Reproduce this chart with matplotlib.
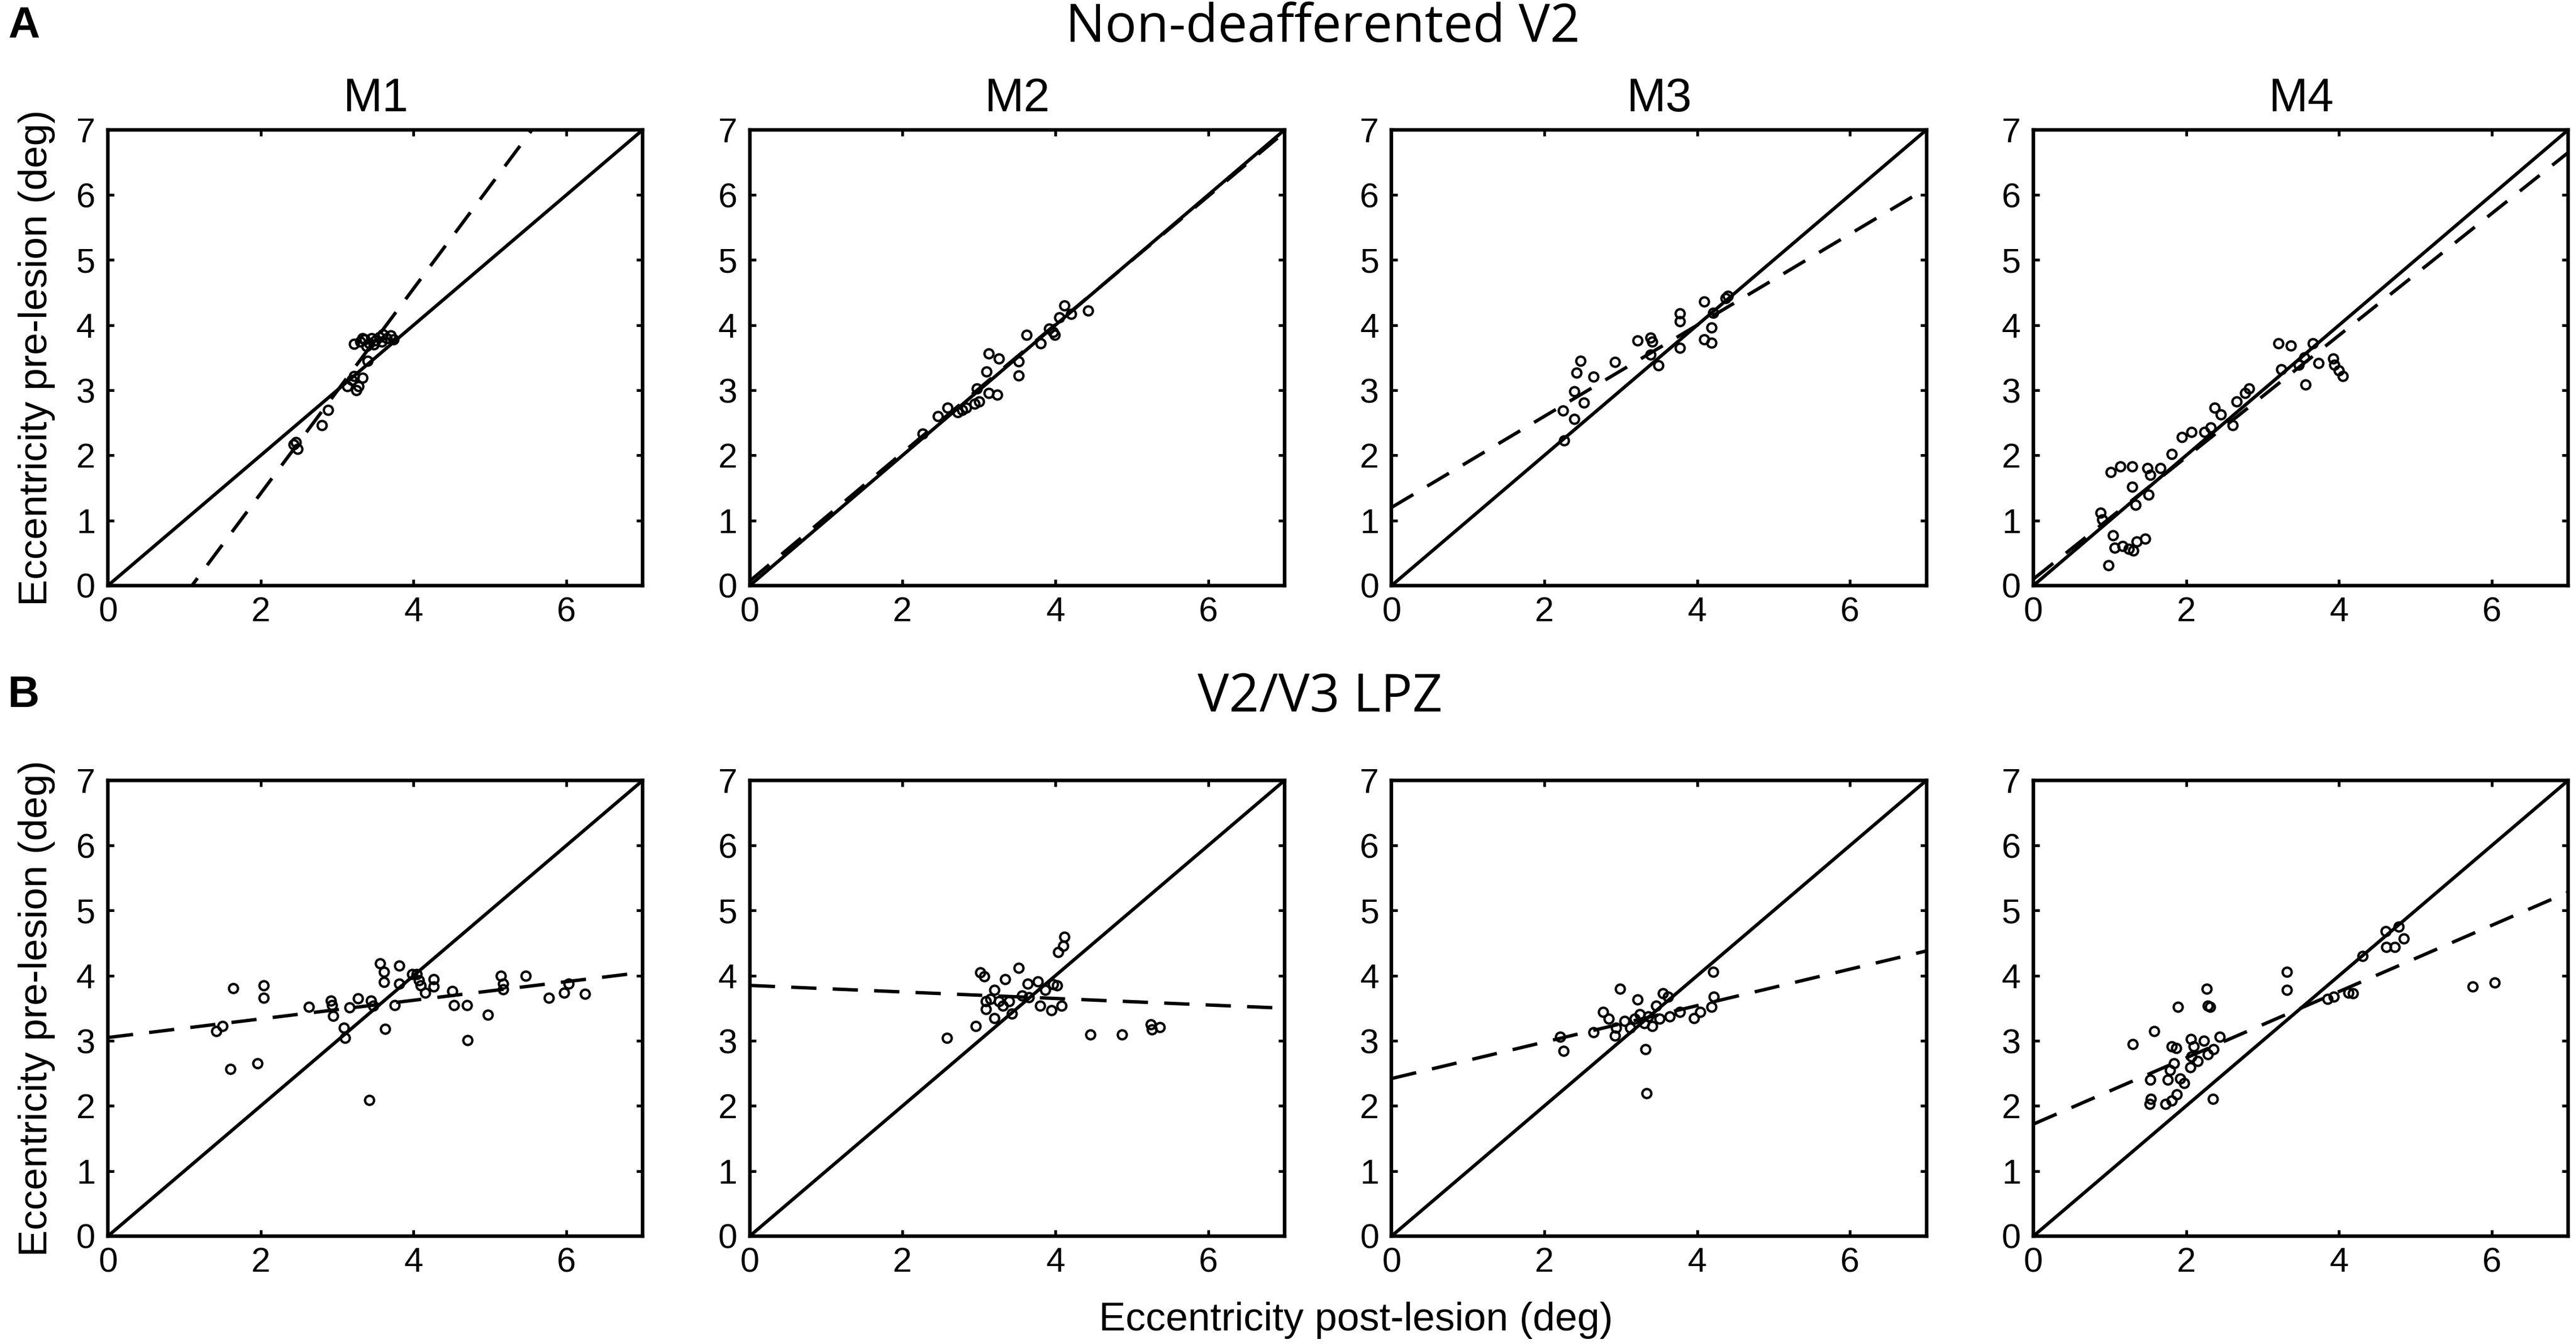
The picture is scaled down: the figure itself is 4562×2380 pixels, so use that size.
import matplotlib
matplotlib.use("Agg")
import matplotlib.pyplot as plt
import numpy as np

# ---- data (deg) ----
row_titles = ["Non-deafferented V2", "V2/V3 LPZ"]
col_titles = ["M1", "M2", "M3", "M4"]

# row A: non-deafferented V2
a_m1_post = [3.22, 3.30, 3.36, 3.42, 3.45, 3.50, 3.55, 3.60, 3.65, 3.70, 3.74, 3.38, 3.48, 3.58, 3.33,
             3.40, 3.33, 3.22, 3.28, 3.13, 3.19, 3.25, 2.88, 2.80, 2.43, 2.48, 2.46]
a_m1_pre = [3.71, 3.75, 3.78, 3.72, 3.80, 3.76, 3.82, 3.86, 3.80, 3.84, 3.78, 3.68, 3.70, 3.75, 3.80,
            3.45, 3.19, 3.22, 3.06, 3.06, 3.16, 3.00, 2.70, 2.46, 2.17, 2.10, 2.20]

a_m2_post = [2.26, 2.46, 2.59, 2.72, 2.78, 2.83, 2.94, 3.00, 2.97, 3.13, 3.24, 3.10, 3.13, 3.26, 3.52,
             3.52, 3.62, 3.81, 3.92, 3.97, 3.99, 4.05, 4.12, 4.21, 4.43]
a_m2_pre = [2.33, 2.60, 2.73, 2.66, 2.70, 2.73, 2.79, 2.83, 3.03, 2.96, 2.93, 3.29, 3.56, 3.49, 3.44,
            3.23, 3.85, 3.72, 3.95, 3.89, 3.85, 4.12, 4.30, 4.17, 4.22]

a_m3_post = [2.26, 2.24, 2.39, 2.39, 2.42, 2.47, 2.52, 2.64, 2.92, 3.22, 3.39, 3.41, 3.39, 3.49, 3.77,
             3.77, 3.77, 4.09, 4.19, 4.09, 4.19, 4.21, 4.37, 4.40]
a_m3_pre = [2.23, 2.69, 2.56, 2.98, 3.27, 3.45, 2.81, 3.21, 3.43, 3.76, 3.81, 3.75, 3.55, 3.38, 4.18,
            4.06, 3.65, 4.36, 3.96, 3.78, 3.73, 4.19, 4.41, 4.45]

a_m4_post = [0.98, 0.88, 0.90, 1.01, 1.14, 1.29, 1.29, 1.34, 1.04, 1.06, 1.17, 1.25, 1.31, 1.35, 1.46,
             1.49, 1.53, 1.51, 1.66, 1.81, 1.94, 2.07, 2.24, 2.32, 2.37, 2.45, 2.61, 2.66, 2.77, 2.82,
             3.21, 3.37, 3.24, 3.47, 3.55, 3.56, 3.66, 3.73, 3.92, 3.94, 4.00, 4.05]
a_m4_pre = [0.31, 1.12, 1.01, 1.74, 1.83, 1.83, 1.52, 1.24, 0.77, 0.58, 0.61, 0.56, 0.54, 0.68, 0.72,
            1.80, 1.70, 1.40, 1.80, 2.02, 2.28, 2.36, 2.36, 2.43, 2.73, 2.63, 2.46, 2.83, 2.96, 3.03,
            3.72, 3.69, 3.32, 3.39, 3.50, 3.09, 3.72, 3.42, 3.49, 3.39, 3.30, 3.22]

# row B: V2/V3 LPZ
b_m1_post = [1.42, 1.50, 1.60, 1.64, 1.96, 2.04, 2.04, 2.63, 2.92, 2.93, 2.95, 3.09, 3.10, 3.16, 3.27,
             3.44, 3.47, 3.42, 3.56, 3.61, 3.61, 3.63, 3.75, 3.81, 3.81, 3.98, 4.04, 4.07, 4.09, 4.15,
             4.26, 4.26, 4.51, 4.53, 4.70, 4.71, 4.97, 5.14, 5.17, 5.17, 5.47, 5.77, 5.97, 6.03, 6.24]
b_m1_pre = [3.15, 3.23, 2.57, 3.81, 2.65, 3.85, 3.66, 3.52, 3.62, 3.55, 3.38, 3.20, 3.04, 3.51, 3.65,
            3.62, 3.54, 2.09, 4.19, 4.06, 3.90, 3.18, 3.55, 4.15, 3.88, 4.02, 4.02, 3.93, 3.85, 3.74,
            3.95, 3.83, 3.76, 3.55, 3.55, 3.01, 3.40, 4.00, 3.88, 3.79, 4.00, 3.66, 3.74, 3.88, 3.72]

b_m2_post = [2.58, 2.96, 3.02, 3.07, 3.09, 3.09, 3.15, 3.20, 3.20, 3.26, 3.31, 3.34, 3.39, 3.43, 3.52,
             3.56, 3.64, 3.65, 3.77, 3.80, 3.87, 3.95, 3.97, 4.02, 4.04, 4.10, 4.12, 4.08, 4.46, 4.87,
             5.25, 5.26, 5.37]
b_m2_pre = [3.04, 3.23, 4.05, 3.99, 3.61, 3.49, 3.64, 3.78, 3.35, 3.61, 3.54, 3.95, 3.61, 3.42, 4.12,
            3.69, 3.88, 3.67, 3.91, 3.54, 3.78, 3.47, 3.87, 3.85, 4.36, 4.46, 4.60, 3.54, 3.10, 3.10,
            3.25, 3.17, 3.21]

b_m3_post = [2.21, 2.25, 2.64, 2.77, 2.84, 2.92, 2.94, 2.99, 3.05, 3.12, 3.18, 3.22, 3.25, 3.31, 3.36,
             3.32, 3.34, 3.41, 3.46, 3.51, 3.55, 3.62, 3.64, 3.77, 3.96, 4.04, 4.19, 4.22, 4.21]
b_m3_pre = [3.06, 2.84, 3.13, 3.44, 3.34, 3.08, 3.20, 3.80, 3.30, 3.20, 3.34, 3.63, 3.41, 3.27, 3.37,
            2.87, 2.19, 3.23, 3.54, 3.34, 3.73, 3.68, 3.37, 3.44, 3.35, 3.44, 3.52, 3.68, 4.06]

b_m4_post = [1.30, 1.52, 1.54, 1.53, 1.58, 1.73, 1.81, 1.88, 1.76, 1.79, 1.84, 1.81, 1.87, 1.89, 1.92,
             1.97, 2.05, 2.07, 2.06, 2.10, 2.15, 2.23, 2.27, 2.28, 2.31, 2.28, 2.36, 2.35, 2.44, 3.32,
             3.32, 3.85, 3.93, 4.12, 4.18, 4.31, 4.61, 4.62, 4.73, 4.78, 4.85, 5.75, 6.04]
b_m4_pre = [2.95, 2.03, 2.11, 2.40, 3.15, 2.03, 2.08, 2.18, 2.40, 2.55, 2.65, 2.91, 2.89, 3.52, 2.42,
            2.35, 2.59, 2.76, 3.03, 2.91, 2.69, 3.00, 3.80, 3.54, 3.52, 2.79, 2.87, 2.11, 3.06, 4.06,
            3.78, 3.64, 3.68, 3.74, 3.73, 4.30, 4.68, 4.44, 4.44, 4.75, 4.57, 3.83, 3.89]

# regression fits (dashed): intercept, slope
fit_intercept = [[-1.73, 0.07, 1.20, 0.10],
                 [3.05, 3.85, 2.42, 1.72]]
fit_slope = [[1.573, 0.985, 0.70, 0.936],
             [0.143, -0.05, 0.28, 0.509]]

post = [[a_m1_post, a_m2_post, a_m3_post, a_m4_post],
        [b_m1_post, b_m2_post, b_m3_post, b_m4_post]]
pre = [[a_m1_pre, a_m2_pre, a_m3_pre, a_m4_pre],
       [b_m1_pre, b_m2_pre, b_m3_pre, b_m4_pre]]

FONT = "Liberation Sans"

fig, axes = plt.subplots(2, 4, figsize=(45.62, 23.8), dpi=100)
fig.subplots_adjust(left=0.0419, right=0.997, top=0.9034, bottom=0.0803,
                    wspace=0.2, hspace=0.4275)

xline = np.array([0.0, 7.0])
for r in range(2):
    for c in range(4):
        ax = axes[r, c]
        ax.plot(xline, xline, color="black", lw=4.3, zorder=2)
        ax.plot(xline, fit_intercept[r][c] + fit_slope[r][c] * xline, color="black",
                lw=4.3, dashes=(7.5, 4.8), zorder=2)
        ax.plot(post[r][c], pre[r][c], "o", ms=11.5, mfc="none", mec="black", mew=3,
                zorder=3)
        ax.set_xlim(0, 7)
        ax.set_ylim(0, 7)
        ax.set_xticks([0, 2, 4, 6])
        ax.set_yticks(range(8))
        ax.tick_params(direction="in", length=8, width=3.5, top=True, right=True,
                       labelsize=44)
        ax.tick_params(axis="x", pad=14)
        ax.tick_params(axis="y", pad=16)
        for lab in ax.get_xticklabels() + ax.get_yticklabels():
            lab.set_fontfamily(FONT)
        for sp in ax.spines.values():
            sp.set_linewidth(4.6)
        if r == 0:
            ax.set_title(col_titles[c], fontsize=60, family=FONT, pad=24)
        if c == 0:
            ax.set_ylabel("Eccentricity pre-lesion (deg)", fontsize=51, family=FONT)
            ax.yaxis.set_label_coords(-0.098, 0.5)

fig.text(0.5136, 0.979, row_titles[0], ha="center", va="center", fontsize=67,
         family="Open Sans")
fig.text(0.5125, 0.4807, row_titles[1], ha="center", va="center", fontsize=67,
         family="Open Sans")
fig.text(0.003, 0.9807, "A", ha="left", va="center", fontsize=56, weight="bold", family=FONT)
fig.text(0.003, 0.4824, "B", ha="left", va="center", fontsize=56, weight="bold", family=FONT)
fig.text(0.5263, 0.0176, "Eccentricity post-lesion (deg)", ha="center", va="center",
         fontsize=51, family=FONT)

fig.savefig("out.png", dpi=100)
